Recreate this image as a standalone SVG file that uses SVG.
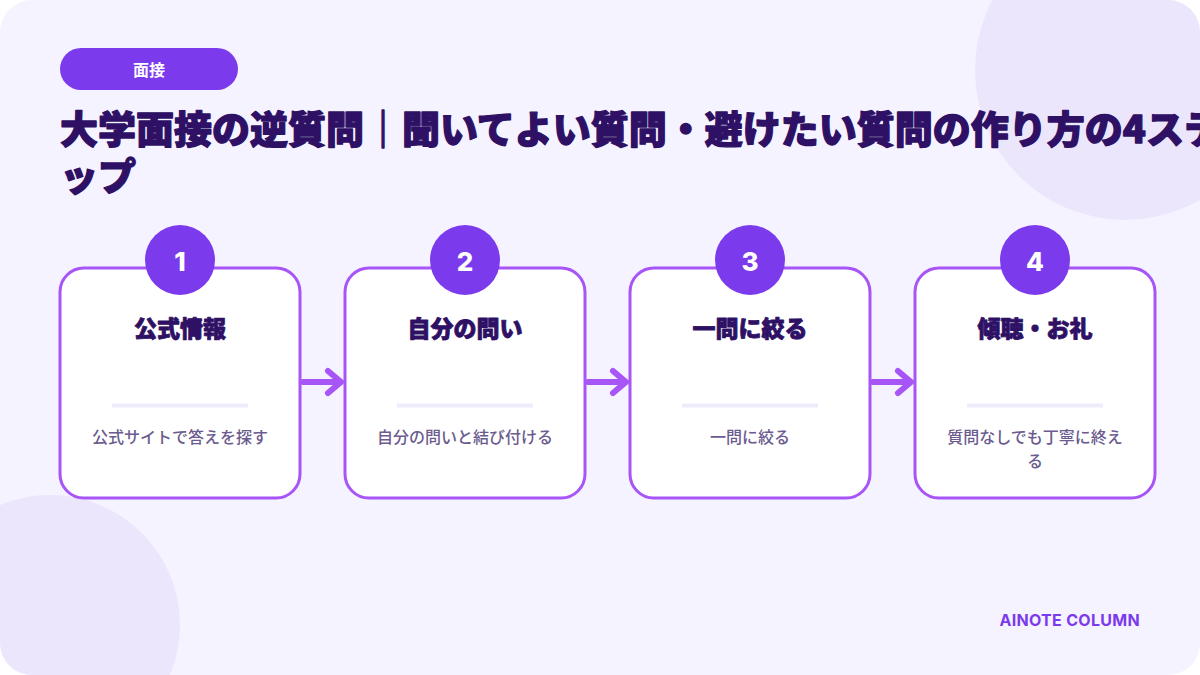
<svg xmlns="http://www.w3.org/2000/svg" width="1200" height="675" viewBox="0 0 1200 675">
  <defs>
    <style>
      .jp { font-family: "Noto Sans CJK JP", "Noto Sans", sans-serif; }
      .title { font-size: 38px; font-weight: 900; fill: #2e1065; stroke: #2e1065; stroke-width: 1.3; stroke-linejoin: round; }
      .card { fill: #ffffff; stroke: #a855f7; stroke-width: 3; }
      .badge { fill: #7c3aed; }
      .num { font-family: Inter, "Noto Sans", sans-serif; font-size: 26px; font-weight: 800; fill: #ffffff; text-anchor: middle; }
      .head { font-size: 23px; font-weight: 900; fill: #2e1065; stroke: #2e1065; stroke-width: 0.8; stroke-linejoin: round; text-anchor: middle; }
      .desc { font-size: 16px; font-weight: 500; fill: #6b5b8e; text-anchor: middle; }
      .divider { stroke: #efebfc; stroke-width: 4; }
      .conn { fill: none; stroke: #a855f7; stroke-width: 6; stroke-linecap: round; stroke-linejoin: round; }
      .deco { fill: #ece6fd; }
    </style>
    <clipPath id="frame">
      <rect x="0" y="0" width="1200" height="675" rx="32"/>
    </clipPath>
  </defs>

  <rect x="0" y="0" width="1200" height="675" fill="#ffffff"/>
  <g clip-path="url(#frame)">
    <rect x="0" y="0" width="1200" height="675" fill="#f5f3ff"/>
    <circle class="deco" cx="1125" cy="70" r="150"/>
    <circle class="deco" cx="50" cy="625" r="130"/>
  </g>

  <g id="tag">
    <rect class="badge" x="60" y="48" width="178" height="42" rx="21"/>
    <text class="jp" x="149" y="76" font-size="16" font-weight="700" fill="#ffffff" text-anchor="middle">面接</text>
  </g>

  <g id="title">
    <text class="jp title" x="60" y="143">大学面接の逆質問｜聞いてよい質問・避けたい質問の作り方の4ステ</text>
    <text class="jp title" x="60" y="190">ップ</text>
  </g>

  <g id="connectors">
    <path class="conn" d="M303 382 H341 M328 371 L341 382 L328 393"/>
    <path class="conn" d="M588 382 H626 M613 371 L626 382 L613 393"/>
    <path class="conn" d="M873 382 H911 M898 371 L911 382 L898 393"/>
  </g>

  <g id="step1">
    <rect class="card" x="60" y="268" width="240" height="230" rx="24"/>
    <circle class="badge" cx="180" cy="260" r="35"/>
    <text class="num" x="180" y="271">1</text>
    <text class="jp head" x="180" y="337">公式情報</text>
    <line class="divider" x1="112" y1="405.5" x2="248" y2="405.5"/>
    <text class="jp desc" x="180" y="443">公式サイトで答えを探す</text>
  </g>

  <g id="step2">
    <rect class="card" x="345" y="268" width="240" height="230" rx="24"/>
    <circle class="badge" cx="465" cy="260" r="35"/>
    <text class="num" x="465" y="271">2</text>
    <text class="jp head" x="465" y="337">自分の問い</text>
    <line class="divider" x1="397" y1="405.5" x2="533" y2="405.5"/>
    <text class="jp desc" x="465" y="443">自分の問いと結び付ける</text>
  </g>

  <g id="step3">
    <rect class="card" x="630" y="268" width="240" height="230" rx="24"/>
    <circle class="badge" cx="750" cy="260" r="35"/>
    <text class="num" x="750" y="271">3</text>
    <text class="jp head" x="750" y="337">一問に絞る</text>
    <line class="divider" x1="682" y1="405.5" x2="818" y2="405.5"/>
    <text class="jp desc" x="750" y="443">一問に絞る</text>
  </g>

  <g id="step4">
    <rect class="card" x="915" y="268" width="240" height="230" rx="24"/>
    <circle class="badge" cx="1035" cy="260" r="35"/>
    <text class="num" x="1035" y="271">4</text>
    <text class="jp head" x="1035" y="337">傾聴・お礼</text>
    <line class="divider" x1="967" y1="405.5" x2="1103" y2="405.5"/>
    <text class="jp desc" x="1035" y="443">質問なしでも丁寧に終え</text>
    <text class="jp desc" x="1035" y="467">る</text>
  </g>

  <g id="footer">
    <text x="1140" y="626" font-family="Inter, 'Noto Sans', sans-serif" font-size="16" font-weight="700" fill="#7c3aed" text-anchor="end" letter-spacing="0.3">AINOTE COLUMN</text>
  </g>
</svg>
